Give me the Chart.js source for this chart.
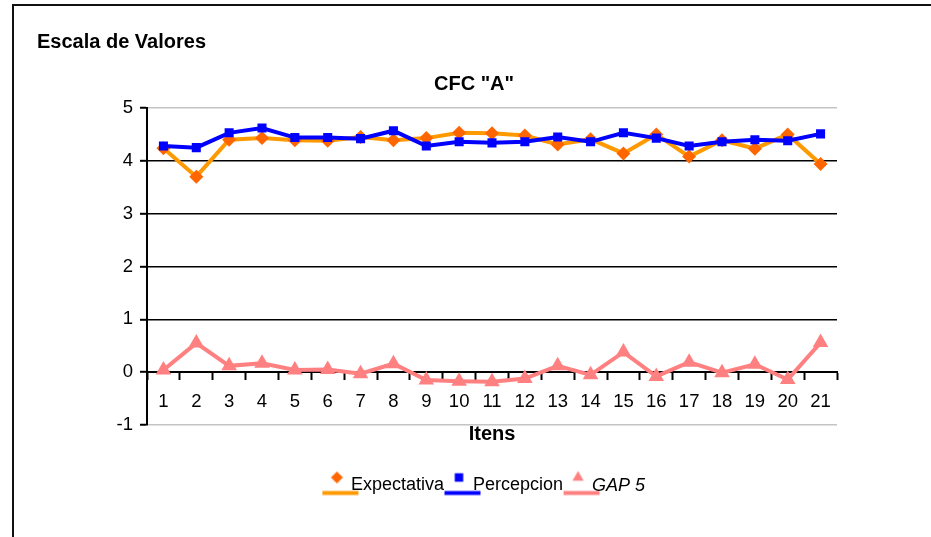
<!DOCTYPE html>
<html>
<head>
<meta charset="utf-8">
<title>Escala de Valores</title>
<script src="https://cdn.jsdelivr.net/npm/chart.js@4.4.1/dist/chart.umd.min.js"></script>
<style>
  html, body { margin: 0; padding: 0; background: #fff; overflow: hidden; }
  #wrap { position: relative; width: 931px; height: 537px; overflow: hidden; }
  #frame { position: absolute; left: 12px; top: 4px; width: 980px; height: 600px; border: 2px solid #111; box-sizing: border-box; }
  #chart { position: absolute; left: 0; top: 0; }
</style>
</head>
<body>
<div id="wrap">
  <div id="frame"></div>
  <canvas id="chart" width="931" height="537"></canvas>
</div>
<script>
// Items evaluated (1..21)
const items = ['1', '2', '3', '4', '5', '6', '7', '8', '9', '10', '11', '12', '13', '14', '15', '16', '17', '18', '19', '20', '21'];

// Mean scores per item
const expectativa = [4.24, 3.70, 4.40, 4.43, 4.39, 4.38, 4.45, 4.39, 4.43, 4.53, 4.52, 4.48, 4.31, 4.41, 4.14, 4.50, 4.08, 4.39, 4.23, 4.50, 3.94];
const percepcion  = [4.28, 4.25, 4.53, 4.62, 4.44, 4.44, 4.42, 4.57, 4.28, 4.36, 4.34, 4.36, 4.45, 4.36, 4.53, 4.43, 4.28, 4.36, 4.40, 4.38, 4.51];
const gap5        = [0.04, 0.55, 0.12, 0.17, 0.04, 0.05, -0.03, 0.16, -0.15, -0.17, -0.18, -0.12, 0.12, -0.05, 0.38, -0.08, 0.19, -0.01, 0.15, -0.14, 0.56];

// Value-axis ticks
const yTicks = [-1, 0, 1, 2, 3, 4, 5];

const seriesNames = ['Expectativa', 'Percepcion', 'GAP 5'];

Chart.defaults.font.family = "'Liberation Sans', Arial, Helvetica, sans-serif";
Chart.defaults.color = '#000';

// Legend key: a short line with the series marker drawn above it
function legendIcon(lineColor, markerColor, style, radius) {
  const c = document.createElement('canvas');
  c.width = 40; c.height = 40;
  const g = c.getContext('2d');
  g.strokeStyle = lineColor;
  g.lineWidth = 4;
  g.beginPath();
  g.moveTo(2, 27.5);
  g.lineTo(38, 27.5);
  g.stroke();
  g.fillStyle = markerColor;
  g.strokeStyle = markerColor;
  Chart.helpers.drawPoint(g, { pointStyle: style, radius: radius, borderWidth: 0, rotation: 0 }, 16.5, 12);
  return c;
}

const icons = [
  legendIcon('#FF9900', '#FF6600', 'rectRot', 6),
  legendIcon('#0000FF', '#0000FF', 'rect', 6),
  legendIcon('#FF8080', '#FF8080', 'triangle', 6.5)
];

// Draws the third legend entry in italics
const italicGapLabel = {
  id: 'italicGapLabel',
  beforeDraw(chart) {
    const ctx = chart.ctx;
    const orig = CanvasRenderingContext2D.prototype.fillText;
    ctx.fillText = function (text, x, y, maxWidth) {
      if (text === seriesNames[2]) {
        const f = this.font;
        this.font = 'italic ' + f.replace(/^(normal|italic)\s+/, '');
        orig.call(this, text, x, y, maxWidth);
        this.font = f;
        return;
      }
      return orig.call(this, text, x, y, maxWidth);
    };
  },
  afterDraw(chart) {
    delete chart.ctx.fillText;
  }
};

new Chart(document.getElementById('chart'), {
  type: 'line',
  data: {
    labels: items,
    datasets: [
      {
        label: seriesNames[0],
        data: expectativa,
        order: 3,
        borderColor: '#FF9900',
        borderWidth: 4,
        pointStyle: 'rectRot',
        pointRadius: 7,
        pointBackgroundColor: '#FF6600',
        pointBorderColor: '#FF6600',
        pointBorderWidth: 0,
        tension: 0
      },
      {
        label: seriesNames[1],
        data: percepcion,
        order: 2,
        borderColor: '#0000FF',
        borderWidth: 4,
        pointStyle: 'rect',
        pointRadius: 6.4,
        pointBackgroundColor: '#0000FF',
        pointBorderColor: '#0000FF',
        pointBorderWidth: 0,
        tension: 0
      },
      {
        label: seriesNames[2],
        data: gap5,
        order: 1,
        borderColor: '#FF8080',
        borderWidth: 4,
        pointStyle: 'triangle',
        pointRadius: 9,
        pointBackgroundColor: '#FF8080',
        pointBorderColor: '#FF8080',
        pointBorderWidth: 0,
        tension: 0
      }
    ]
  },
  options: {
    responsive: false,
    animation: false,
    events: [],
    layout: { padding: { top: 20, left: 37, right: 20, bottom: 32.5 } },
    plugins: {
      title: {
        display: true,
        text: 'Escala de Valores',
        align: 'start',
        color: '#000',
        font: { size: 20, weight: 'bold', lineHeight: 1.2 },
        padding: { top: 10, bottom: 10 }
      },
      subtitle: {
        display: true,
        text: 'CFC "A"',
        align: 'center',
        color: '#000',
        font: { size: 20, weight: 'bold', lineHeight: 1.2 },
        padding: { top: 8.7, bottom: 11.3 }
      },
      legend: {
        display: true,
        position: 'bottom',
        fullSize: false,
        labels: {
          color: '#000',
          font: { size: 18 },
          usePointStyle: true,
          pointStyleWidth: 3,
          padding: 17,
          sort: (a, b) => a.datasetIndex - b.datasetIndex,
          generateLabels: (chart) =>
            Chart.defaults.plugins.legend.labels.generateLabels(chart).map((item) => ({
              ...item,
              pointStyle: icons[item.datasetIndex]
            }))
        }
      },
      tooltip: { enabled: false }
    },
    scales: {
      x: {
        type: 'category',
        position: { y: 0 },
        offset: true,
        grid: {
          display: true,
          offset: true,
          drawOnChartArea: false,
          drawTicks: true,
          tickLength: 7,
          tickColor: '#000',
          tickWidth: 2
        },
        border: { display: true, color: '#000', width: 2 },
        ticks: {
          font: { size: 18.5 },
          color: '#000',
          padding: 12,
          maxRotation: 0,
          autoSkip: false
        }
      },
      xTitle: {
        type: 'linear',
        position: 'bottom',
        display: true,
        grid: { display: false },
        border: { display: false },
        ticks: { display: false },
        title: {
          display: true,
          text: 'Itens',
          color: '#000',
          font: { size: 20, weight: 'bold', lineHeight: 0.8 },
          padding: { top: 0, bottom: 17.5 }
        },
        afterFit: (s) => { s.height = 34.5; }
      },
      y: {
        type: 'linear',
        position: 'left',
        min: -1,
        max: 5,
        afterBuildTicks: (s) => { s.ticks = yTicks.map((v) => ({ value: v })); },
        grid: {
          color: (c) => (c.tick && (c.tick.value === 5 || c.tick.value === -1)) ? '#c4c4c4' : '#000',
          lineWidth: (c) => (c.tick && (c.tick.value === 5 || c.tick.value === -1)) ? 1.5 : 1.6,
          tickColor: '#000',
          tickLength: 7,
          tickWidth: 2
        },
        border: { display: true, color: '#000', width: 2 },
        ticks: {
          font: { size: 18.5 },
          color: '#000',
          padding: 7
        },
        afterFit: (s) => { s.width = 110; }
      },
      ySpacer: {
        type: 'linear',
        position: 'right',
        display: true,
        grid: { display: false },
        border: { display: false },
        ticks: { display: false },
        afterFit: (s) => { s.width = 74; }
      }
    }
  },
  plugins: [italicGapLabel]
});
</script>
</body>
</html>
